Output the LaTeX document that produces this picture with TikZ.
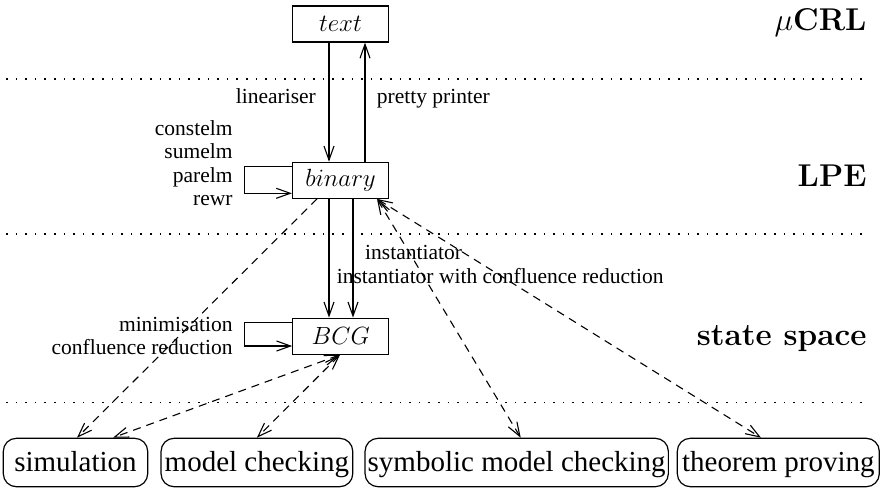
\RequirePackage{fix-cm}
\documentclass[tikz,border=0pt]{standalone}
\usepackage{fontspec}
\newfontfamily\tms{Liberation Serif}
\usetikzlibrary{arrows.meta}
\begin{document}
\begin{tikzpicture}[x=1pt,y=-1pt,
  lbl/.style={font=\tms\fontsize{21.5}{24}\selectfont, inner sep=0pt, text height=15pt, text depth=4.5pt},
  head/.style={font=\fontsize{31.5}{34}\selectfont\bfseries, inner sep=0pt, anchor=east, text height=22pt, text depth=6pt},
  mbox/.style={draw, line width=1.2pt, minimum width=96pt, minimum height=36pt, inner sep=0pt, font=\fontsize{24.88}{28}\selectfont},
  tool/.style={draw, line width=1.2pt, rounded corners=13pt, minimum height=48.4pt, inner sep=0pt, text height=24pt, text depth=5.8pt, font=\tms\fontsize{29}{32}\selectfont},
  arr/.style={line width=1.1pt, -{Straight Barb[length=14pt,width=10pt]}},
  darr/.style={arr, dash pattern=on 8pt off 6pt},
  ddarr/.style={line width=1.1pt, dash pattern=on 8pt off 6pt, {Straight Barb[length=14pt,width=10pt]}-{Straight Barb[length=14pt,width=10pt]}},
  sep/.style={line width=1.3pt, dash pattern=on 1.5pt off 8.1pt}
]
\useasboundingbox (0,0) rectangle (881,488);
% separators
\coordinate (s1a) at (6,79);   \coordinate (s1b) at (866,79);
\coordinate (s2a) at (6,234);  \coordinate (s2b) at (866,234);
\coordinate (s3a) at (6,402.7);\coordinate (s3b) at (866,402.7);
\draw[sep] (s1a) -- (s1b);
\draw[sep] (s2a) -- (s2b);
\draw[sep] (s3a) -- (s3b);
% level headings
\node[head] (hmu) at (866.7,22) {$\mu$CRL};
\node[head] (hlpe) at (866.7,178.7) {LPE};
\node[head] (hss) at (866.7,337) {state space};
% main boxes
\node[mbox] (text) at (340.5,24) {$text$};
\node[mbox] (binary) at (340.5,180.3) {$binary$};
\node[mbox] (bcg) at (340.8,336.2) {$BCG$};
% tool boxes
\node[tool, minimum width=144.4pt] (sim) at (75.5,462.5) {simulation};
\node[tool, minimum width=191.7pt] (mc) at (256.9,462.5) {model checking};
\node[tool, minimum width=303.3pt] (smc) at (516.7,462.5) {symbolic model checking};
\node[tool, minimum width=202pt] (tp) at (778.3,462.5) {theorem proving};
% solid arrows
\draw[arr] ([xshift=-11.5pt]text.south) -- ([xshift=-11.5pt]binary.north);
\draw[arr] ([xshift=24.5pt]binary.north) -- ([xshift=24.5pt]text.south);
\draw[arr] ([xshift=-11.5pt]binary.south) -- ([xshift=-11.8pt]bcg.north);
\draw[arr] ([xshift=12.5pt]binary.south) -- ([xshift=12.2pt]bcg.north);
% loops
\draw[arr] ([yshift=13.6pt]binary.west) -- ++(-47.7,0) |- ([yshift=-13pt]binary.west);
\draw[arr] ([yshift=13.5pt]bcg.west) -- ++(-47.7,0) |- ([yshift=-9.8pt]bcg.west);
% labels
\node[lbl, anchor=east] (llin) at (316,98) {lineariser};
\node[lbl, anchor=west] (lpp) at (376.7,98) {pretty printer};
\node[lbl, anchor=east] (l1) at (232.7,129.8) {constelm};
\node[lbl, anchor=east] (l2) at (232.7,152.8) {sumelm};
\node[lbl, anchor=east] (l3) at (232.7,177.5) {parelm};
\node[lbl, anchor=east] (l4) at (232.7,199.8) {rewr};
\node[lbl, anchor=east] (l5) at (232.7,326.3) {minimisation};
\node[lbl, anchor=east] (l6) at (232.7,349.7) {confluence reduction};
\node[lbl, anchor=west] (l7) at (365,254.7) {instantiator};
\node[lbl, anchor=west] (l8) at (336.7,278) {instantiator with confluence reduction};
% dashed connections
\draw[darr] ([xshift=-23.5pt]binary.south) -- ([xshift=1.5pt]sim.north);
\draw[ddarr] ([xshift=-0.8pt]bcg.south) -- ([xshift=37.5pt]sim.north);
\draw[ddarr] ([xshift=-0.8pt]bcg.south) -- (mc.north);
\draw[ddarr] ([xshift=36.5pt]binary.south) -- ([xshift=4pt]smc.north);
\draw[ddarr] ([xshift=36.5pt]binary.south) -- ([xshift=-17.3pt]tp.north);
\end{tikzpicture}
\end{document}
